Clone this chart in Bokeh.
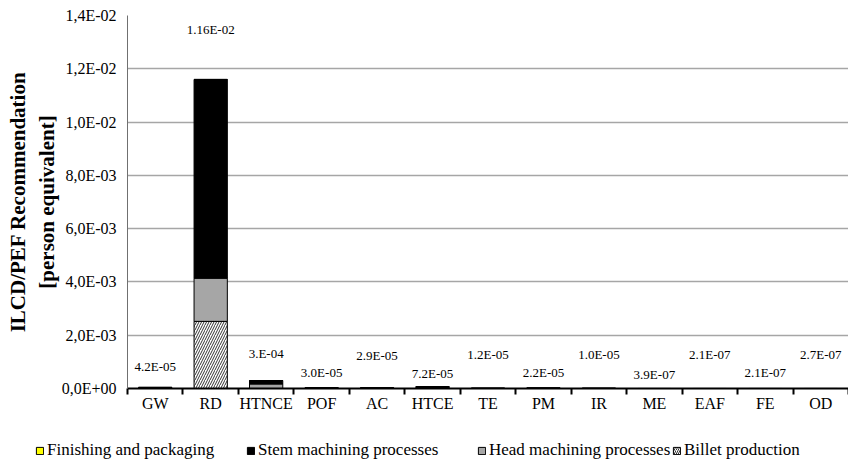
from bokeh.plotting import figure
from bokeh.layouts import column
from bokeh.models import (FixedTicker, Legend, LegendItem, ColumnDataSource,
                          Range1d)
from bokeh.core.properties import value
from bokeh.embed import file_html
from bokeh.resources import INLINE

# ---------------- data ----------------
categories = ["GW", "RD", "HTNCE", "POF", "AC", "HTCE", "TE", "PM", "IR",
              "ME", "EAF", "FE", "OD"]
billet_production = [0.0, 2.52e-3, 0.0, 0.0, 0.0, 0.0, 0.0, 0.0, 0.0,
                     0.0, 0.0, 0.0, 0.0]
head_machining = [0.0, 1.62e-3, 1.7e-4, 0.0, 0.0, 0.0, 0.0, 0.0, 0.0,
                  0.0, 0.0, 0.0, 0.0]
stem_machining = [4.2e-5, 7.46e-3, 1.3e-4, 3.0e-5, 2.9e-5, 7.2e-5, 1.2e-5,
                  2.2e-5, 1.0e-5, 3.9e-7, 2.1e-7, 2.1e-7, 2.7e-7]
finishing_packaging = [0.0, 0.0, 0.0, 0.0, 0.0, 0.0, 0.0, 0.0, 0.0,
                       0.0, 0.0, 0.0, 0.0]
total_labels = ["4.2E-05", "1.16E-02", "3.E-04", "3.0E-05", "2.9E-05",
                "7.2E-05", "1.2E-05", "2.2E-05", "1.0E-05", "3.9E-07",
                "2.1E-07", "2.1E-07", "2.7E-07"]
series_names = ["Finishing and packaging", "Stem machining processes",
                "Head machining processes", "Billet production"]
y_ticks = [0.0, 0.002, 0.004, 0.006, 0.008, 0.010, 0.012, 0.014]
y_tick_labels = ["0,0E+00", "2,0E-03", "4,0E-03", "6,0E-03", "8,0E-03",
                 "1,0E-02", "1,2E-02", "1,4E-02"]

# ---------------- style ----------------
label_lift_px = [21, 50, 27, 15, 32, 13, 34, 15, 34, 14, 34, 16, 34]
legend_x_px = [35, 246, 477, 672]
FONT = "Liberation Serif"
colors = {"billet": "white", "head": "#a6a6a6", "stem": "black",
          "finishing": "#ffff00"}
hatches = {"billet": "right_diagonal_line", "head": " ", "stem": " ",
           "finishing": " "}

xs = list(range(len(categories)))
totals = [b + h + s + f for b, h, s, f in zip(billet_production, head_machining,
                                              stem_machining, finishing_packaging)]

src = ColumnDataSource(dict(
    x=xs, billet=billet_production, head=head_machining,
    stem=stem_machining, finishing=finishing_packaging,
))
lab_src = ColumnDataSource(dict(
    x=xs, y=totals, text=total_labels, yoff=[-v for v in label_lift_px],
))

p = figure(width=848, height=420, output_backend="svg", toolbar_location=None,
           x_range=Range1d(-0.5, len(categories) - 0.5),
           y_range=Range1d(0, 0.014),
           min_border_left=127, min_border_right=0, min_border_top=15,
           min_border_bottom=32)
p.outline_line_color = None
p.frame_align = False

stack_keys = ["billet", "head", "stem", "finishing"]
rs = p.vbar_stack(stack_keys, x="x", width=0.6, source=src,
                  fill_color=[colors[k] for k in stack_keys],
                  line_color="black", line_width=1,
                  hatch_pattern=[hatches[k] for k in stack_keys],
                  hatch_color="black", hatch_scale=5, hatch_weight=0.8)

p.text(x="x", y="y", text="text", y_offset="yoff", source=lab_src,
       text_font=value(FONT), text_font_size="13px", text_align="center",
       text_baseline="middle", text_color="black")

# grid
p.xgrid.visible = False
p.ygrid.grid_line_color = "#a6a6a6"
p.ygrid.grid_line_width = 1.5

# y axis
p.yaxis.ticker = FixedTicker(ticks=y_ticks)
p.yaxis.major_label_overrides = {t: l for t, l in zip(y_ticks, y_tick_labels)}
p.yaxis.major_tick_out = 0
p.yaxis.major_tick_in = 0
p.yaxis.minor_tick_out = 0
p.yaxis.minor_tick_in = 0
p.yaxis.major_label_standoff = 11
p.yaxis.major_label_text_font = FONT
p.yaxis.major_label_text_font_size = "16px"
p.yaxis.major_label_text_color = "black"
p.yaxis.axis_line_color = "#707070"
p.yaxis.axis_line_width = 1
p.yaxis.axis_label = "ILCD/PEF Recommendation\n[person equivalent]"
p.yaxis.axis_label_text_font = FONT
p.yaxis.axis_label_text_font_style = "bold"
p.yaxis.axis_label_text_font_size = "21px"
p.yaxis.axis_label_text_color = "black"
p.yaxis.axis_label_standoff = 0

# x axis: labels at centres, tick marks at category boundaries
p.xaxis.ticker = FixedTicker(ticks=xs,
                             minor_ticks=[i - 0.5 for i in range(len(categories) + 1)])
p.xaxis.major_label_overrides = {i: c for i, c in zip(xs, categories)}
p.xaxis.major_tick_out = 0
p.xaxis.major_tick_in = 0
p.xaxis.minor_tick_out = 6
p.xaxis.minor_tick_in = 0
p.xaxis.minor_tick_line_color = "black"
p.xaxis.minor_tick_line_width = 2
p.xaxis.axis_line_color = "black"
p.xaxis.axis_line_width = 2
p.xaxis.major_label_standoff = 0
p.xaxis.major_label_text_font = FONT
p.xaxis.major_label_text_font_size = "16px"
p.xaxis.major_label_text_color = "black"

# ---------------- legend strip ----------------
lp = figure(width=848, height=42, output_backend="svg", toolbar_location=None,
            x_range=Range1d(0, 1), y_range=Range1d(0, 1),
            x_axis_type=None, y_axis_type=None,
            min_border_left=0, min_border_right=0, min_border_top=0,
            min_border_bottom=0)
lp.grid.visible = False
lp.outline_line_color = None
lp.frame_align = False

legend_keys = ["finishing", "stem", "head", "billet"]
for name, key, lx in zip(series_names, legend_keys, legend_x_px):
    # off-screen proxy bar, used only to draw the legend swatch
    r = lp.vbar(x=[5], top=[5], bottom=[4], width=0.5, fill_color=colors[key],
                line_color="black", line_width=1, hatch_pattern=hatches[key],
                hatch_color="black", hatch_scale=4, hatch_weight=0.8)
    lg = Legend(items=[LegendItem(label=name, renderers=[r])],
                location=(lx, 2), orientation="horizontal",
                glyph_width=9, glyph_height=9, label_standoff=3,
                padding=0, margin=0, border_line_color=None,
                background_fill_alpha=0, label_text_font=FONT,
                label_text_font_size="17px", label_text_color="black")
    lp.add_layout(lg, "center")

open("out.html", "w").write(file_html(column(p, lp), INLINE))
